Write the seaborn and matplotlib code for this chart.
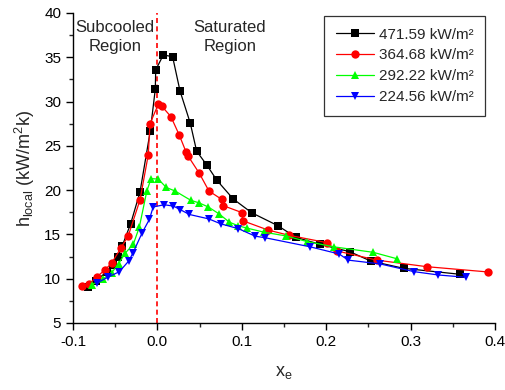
import numpy as np
import pandas as pd
import matplotlib
matplotlib.use("Agg")
import matplotlib.pyplot as plt
from matplotlib.ticker import MultipleLocator
import seaborn as sns

series_labels = ["471.59 kW/m²", "364.68 kW/m²", "292.22 kW/m²", "224.56 kW/m²"]

x_471 = [-0.082, -0.073, -0.060, -0.053, -0.047, -0.0416, -0.0317, -0.0206, -0.0084, -0.0025, -0.002,
         0.007, 0.018, 0.0268, 0.039, 0.0465, 0.0588, 0.0706, 0.0899, 0.1117, 0.1425, 0.1642, 0.1927,
         0.228, 0.2527, 0.292, 0.3585]
h_471 = [9.03, 9.74, 10.8, 11.6, 12.4, 13.73, 16.2, 19.8, 26.7, 31.4, 33.57,
         35.26, 35.07, 31.2, 27.55, 24.4, 22.8, 21.1, 19.0, 17.45, 16.0, 14.67, 13.88,
         13.05, 12.0, 11.17, 10.5]

x_364 = [-0.089, -0.081, -0.072, -0.062, -0.054, -0.043, -0.0345, -0.0206, -0.0108, -0.0088, 0.0011,
         0.005, 0.016, 0.026, 0.034, 0.036, 0.0497, 0.0611, 0.0762, 0.078, 0.1006, 0.101, 0.131,
         0.156, 0.201, 0.213, 0.26, 0.319, 0.392]
h_364 = [9.18, 9.4, 10.2, 11.0, 11.8, 13.5, 14.85, 18.9, 24.0, 27.5, 29.7,
         29.5, 28.3, 26.2, 24.3, 23.9, 21.9, 19.9, 18.96, 18.25, 17.45, 16.55, 15.5,
         14.9, 14.07, 13.13, 12.1, 11.36, 10.76]

x_292 = [-0.078, -0.064, -0.054, -0.046, -0.038, -0.0285, -0.0215, -0.0125, -0.0075, 0.001, 0.0105,
         0.021, 0.0396, 0.0497, 0.0603, 0.0734, 0.085, 0.095, 0.1058, 0.1265, 0.153, 0.177, 0.209,
         0.2557, 0.2836]
h_292 = [9.3, 10.0, 10.7, 11.7, 12.9, 13.9, 15.8, 19.9, 21.3, 21.25, 20.3,
         19.9, 18.85, 18.55, 18.1, 17.3, 16.4, 16.0, 15.72, 15.25, 14.82, 14.2, 13.6,
         12.98, 12.26]

x_224 = [-0.072, -0.058, -0.045, -0.034, -0.029, -0.018, -0.0095, -0.005, 0.008, 0.019, 0.027,
         0.038, 0.061, 0.075, 0.096, 0.116, 0.1275, 0.181, 0.2155, 0.226, 0.264, 0.304, 0.333, 0.366]
h_224 = [9.5, 10.2, 10.8, 12.0, 12.9, 15.2, 16.7, 18.1, 18.35, 18.2, 17.8,
         17.25, 16.75, 16.2, 15.65, 14.8, 14.63, 13.6, 12.79, 12.1, 11.67, 10.8, 10.42, 10.16]

xs = [x_471, x_364, x_292, x_224]
hs = [h_471, h_364, h_292, h_224]
colors = ["#000000", "#ff0000", "#00ff00", "#0000ff"]
marker_list = ["s", "o", "^", "v"]

frames = []
for lab, x, h in zip(series_labels, xs, hs):
    frames.append(pd.DataFrame({"xe": x, "h": h, "series": lab}))
df = pd.concat(frames, ignore_index=True)

sns.set_style("ticks")
plt.rcParams["font.family"] = ["Liberation Sans", "DejaVu Sans"]
plt.rcParams["mathtext.fontset"] = "custom"
plt.rcParams["mathtext.rm"] = "Liberation Sans"
plt.rcParams["mathtext.it"] = "Liberation Sans"
plt.rcParams["mathtext.bf"] = "Liberation Sans"

fig = plt.figure(figsize=(5.05, 3.9), dpi=100)
ax = fig.add_axes([0.1446, 0.1718, 0.8354, 0.7949])

sns.lineplot(data=df, x="xe", y="h", hue="series", style="series",
             hue_order=series_labels, style_order=series_labels,
             palette=dict(zip(series_labels, colors)),
             markers=dict(zip(series_labels, marker_list)),
             dashes=False, sort=False, estimator=None, units="series",
             linewidth=0.9, markersize=6, markeredgewidth=0,
             ax=ax)

ax.axvline(0.0, color="#ff0000", linestyle=(0, (3, 2)), linewidth=1.2, zorder=0)

ax.set_xlim(-0.1, 0.4)
ax.set_ylim(5, 40)
ax.xaxis.set_major_locator(MultipleLocator(0.1))
ax.xaxis.set_minor_locator(MultipleLocator(0.05))
ax.yaxis.set_major_locator(MultipleLocator(5))
ax.yaxis.set_minor_locator(MultipleLocator(2.5))
ax.set_xticklabels([f"{v:.1f}" for v in ax.get_xticks()])
ax.tick_params(which="major", direction="out", length=5, width=1, labelsize=11, colors="black")
ax.tick_params(which="minor", direction="out", length=3, width=1)
for s in ["top", "right"]:
    ax.spines[s].set_visible(False)
for s in ["left", "bottom"]:
    ax.spines[s].set_color("black")
    ax.spines[s].set_linewidth(1.0)

ax.set_xlabel("x$_e$", fontsize=13, labelpad=11)
ax.set_ylabel("h$_{local}$ (kW/m$^2$k)", fontsize=13, labelpad=5)

ax.text(-0.050, 37.3, "Subcooled\nRegion", ha="center", va="center", fontsize=12, linespacing=1.3)
ax.text(0.086, 37.3, "Saturated\nRegion", ha="center", va="center", fontsize=12, linespacing=1.3)

handles, labels = ax.get_legend_handles_labels()
leg = ax.legend(handles, labels, loc="upper right", bbox_to_anchor=(0.976, 0.99),
                borderaxespad=0.0,
                fontsize=11, frameon=True, fancybox=False, edgecolor="black",
                handlelength=2.5, handletextpad=0.3, labelspacing=0.45, borderpad=0.75)
leg.get_frame().set_linewidth(0.9)

fig.savefig("out.png", dpi=100)
